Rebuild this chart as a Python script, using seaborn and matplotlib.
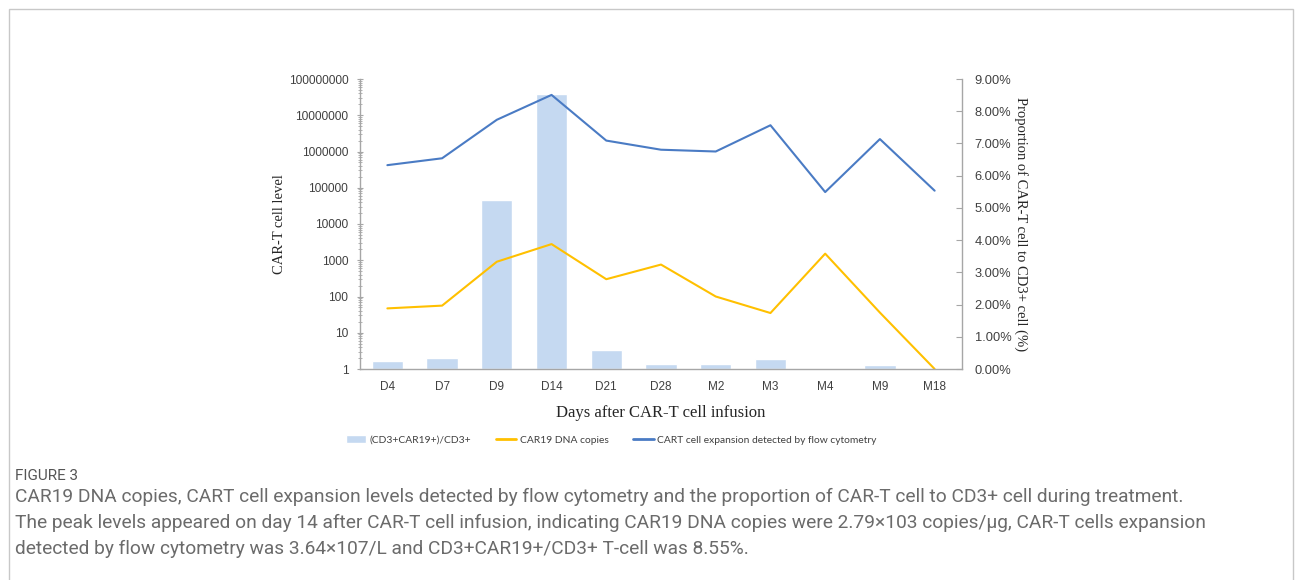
import numpy as np
import matplotlib
matplotlib.use("Agg")
import matplotlib.pyplot as plt
import matplotlib.ticker as mticker
from matplotlib.patches import Rectangle
import seaborn as sns

# values
days = ['D4', 'D7', 'D9', 'D14', 'D21', 'D28', 'M2', 'M3', 'M4', 'M9', 'M18']
ratio_pct = [0.24, 0.33, 5.25, 8.55, 0.59, 0.17, 0.15, 0.32, 0.0, 0.12, 0.0]
dna_copies = [47, 56, 910, 2790, 300, 760, 100, 35, 1520, 36, 1]
flow_cells = [4.2e5, 6.5e5, 7.5e6, 3.64e7, 2.0e6, 1.12e6, 1.0e6, 5.3e6, 7.6e4, 2.2e6, 8.3e4]

left_ticks = [1, 10, 100, 1000, 10000, 100000, 1000000, 10000000, 100000000]

bar_col = '#c5d9f1'
dna_col = '#ffc000'
flow_col = '#4a7bc4'
tick_col = '#404040'
axis_col = '#a6a6a6'

sns.set_style('white')
plt.rcParams['font.family'] = ['Liberation Sans', 'DejaVu Sans']

fig = plt.figure(figsize=(12.95, 5.8), dpi=100)
ax = fig.add_axes([360 / 1295, 1 - 369 / 580, 602 / 1295, 290 / 580])
ax2 = ax.twinx()

x = np.arange(len(days))

# bars on the secondary (percent) axis
sns.barplot(x=days, y=ratio_pct, ax=ax2, color=bar_col, width=0.57,
            saturation=1, label='(CD3+CAR19+)/CD3+')

# lines on the log axis
sns.lineplot(x=x, y=dna_copies, ax=ax, color=dna_col, lw=1.5,
             label='CAR19 DNA copies')
sns.lineplot(x=x, y=flow_cells, ax=ax, color=flow_col, lw=1.5,
             label='CART cell expansion detected by flow cytometry')

ax.set_zorder(ax2.get_zorder() + 1)
ax.patch.set_visible(False)

ax.set_yscale('log')
ax.set_ylim(1, 1e8)
ax.set_xlim(-0.5, len(days) - 0.5)
ax.yaxis.set_major_locator(mticker.FixedLocator(left_ticks))
ax.yaxis.set_major_formatter(mticker.FuncFormatter(lambda v, p: '%d' % v))
ax.yaxis.set_minor_locator(mticker.LogLocator(base=10, subs=np.arange(2, 10)))
ax.yaxis.set_minor_formatter(mticker.NullFormatter())

ax2.set_ylim(0, 9)
ax2.set_yticks(np.arange(0, 10, 1))
ax2.yaxis.set_major_formatter(mticker.FuncFormatter(lambda v, p: '%.2f%%' % v))

ax.set_xticks(x)
ax.set_xticklabels(days)

for a in (ax, ax2):
    for s in a.spines.values():
        s.set_visible(False)
    a.set_xlabel('')
    a.set_ylabel('')
    if a.get_legend() is not None:
        a.get_legend().remove()

ax.spines['left'].set_visible(True)
ax.spines['bottom'].set_visible(True)
ax2.spines['right'].set_visible(True)
for s in (ax.spines['left'], ax.spines['bottom'], ax2.spines['right']):
    s.set_color(axis_col)
    s.set_linewidth(1)

ax.tick_params(axis='x', length=0, labelsize=8.5, labelcolor=tick_col, pad=9)
ax.tick_params(axis='y', which='major', direction='inout', length=5, color=axis_col,
               labelsize=8.6, labelcolor=tick_col, pad=6)
ax.tick_params(axis='y', which='minor', direction='inout', length=3, color=axis_col)
ax2.tick_params(axis='y', direction='in', length=4, color=axis_col,
                labelsize=9.3, labelcolor=tick_col, pad=9)
ax2.tick_params(axis='x', length=0, labelbottom=False)

ax.set_ylabel('CAR-T cell level', fontsize=10.5, family='Liberation Serif', labelpad=2)
ax.set_xlabel('Days after CAR-T cell infusion', fontsize=12, family='Liberation Serif',
              labelpad=8)
ax2.set_ylabel('Proportion of CAR-T cell to CD3+ cell (%)', fontsize=10.5,
               family='Liberation Serif', rotation=270, labelpad=12)

h1, l1 = ax2.get_legend_handles_labels()
h2, l2 = ax.get_legend_handles_labels()
leg = fig.legend(h1 + h2, l1 + l2, loc='center', bbox_to_anchor=(611 / 1295, 1 - 440 / 580),
                 ncol=3, frameon=False, prop={'family': 'Lato', 'size': 7.4},
                 handlelength=2.0, columnspacing=2.4, handletextpad=0.3,
                 labelcolor=tick_col)
for ln in leg.get_lines():
    ln.set_linewidth(2)

# figure frame and caption
fig.patches.append(Rectangle((9 / 1295, -0.1), 1284 / 1295, 1.1 - 9 / 580,
                             transform=fig.transFigure, fill=False,
                             edgecolor='#c8c8c8', lw=1))
fig.text(15 / 1295, 1 - 476 / 580, 'FIGURE 3', fontsize=11, color='#555555',
         family='Roboto', va='center')
caption = [
    'CAR19 DNA copies, CART cell expansion levels detected by flow cytometry and the proportion of CAR-T cell to CD3+ cell during treatment.',
    'The peak levels appeared on day 14 after CAR-T cell infusion, indicating CAR19 DNA copies were 2.79\u00d7103 copies/\u03bcg, CAR-T cells expansion',
    'detected by flow cytometry was 3.64\u00d7107/L and CD3+CAR19+/CD3+ T-cell was 8.55%.',
]
for i, line in enumerate(caption):
    fig.text(15 / 1295, 1 - (497 + 26 * i) / 580, line, fontsize=13.8,
             color='#6b6b6b', family='Roboto', va='center')

fig.savefig('out.png', dpi=100)
